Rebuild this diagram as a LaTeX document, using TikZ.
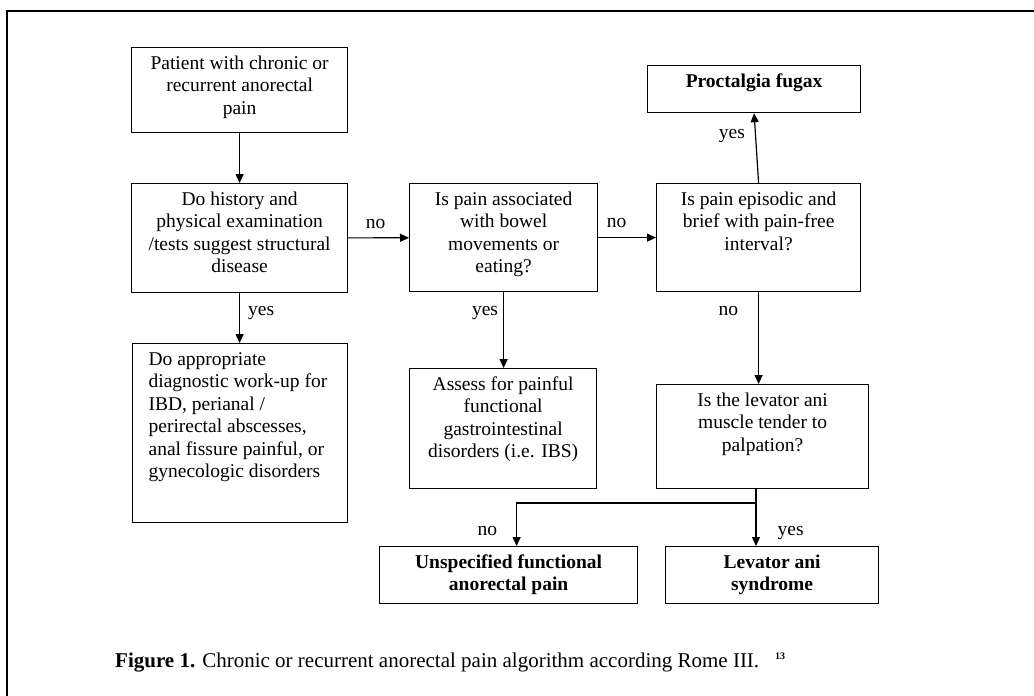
\documentclass[tikz,border=0pt]{standalone}
\usepackage{fontspec}
\setmainfont{Liberation Serif}
\usepackage{tikz}
\usetikzlibrary{arrows.meta,positioning}

\newcommand{\boxfont}{\fontsize{19.5pt}{22.5pt}\selectfont}
\newcommand{\capfont}{\fontsize{21pt}{24pt}\selectfont}
% text sits at the top of each box, as in the original
\newcommand{\toptext}[3]{\parbox[c][#2][t]{#1}{\centering\rule{0pt}{21.5pt}#3}}
\newcommand{\toptextl}[3]{\parbox[c][#2][t]{#1}{\raggedright\setlength{\leftskip}{16pt}\rule{0pt}{21.5pt}#3}}

\begin{document}
\begin{tikzpicture}[x=1pt, y=-1pt,
  box/.style={draw, line width=1.2pt, anchor=north west, inner sep=0pt, font=\boxfont},
  arr/.style={-{Triangle[length=9pt,width=8pt]}, line width=1.2pt},
  lbl/.style={font=\boxfont, inner sep=3pt}]
  \useasboundingbox (0,0) rectangle (1034,696);
  \draw[line width=2pt] (7,696) -- (7,11) -- (1034,11);

  \node[box] (patient)  at (131,47)  {\toptext{216pt}{85pt}{Patient with chronic or\\recurrent anorectal\\pain}};
  \node[box] (history)  at (131,183) {\toptext{216pt}{109pt}{Do history and\\physical examination\\/tests suggest structural\\disease}};
  \node[box] (assoc)    at (409,183) {\toptext{188pt}{108pt}{Is pain associated\\with bowel\\movements or\\eating?}};
  \node[box] (episodic) at (656,183) {\toptext{204pt}{108pt}{Is pain episodic and\\brief with pain-free\\interval?}};
  \node[box] (fugax)    at (647,65)  {\toptext{213pt}{47pt}{\bfseries Proctalgia fugax}};
  \node[box] (workup)   at (132,343) {\toptextl{215pt}{179pt}{Do appropriate\\diagnostic work-up for\\IBD, perianal /\\perirectal abscesses,\\anal fissure painful, or\\gynecologic disorders}};
  \node[box] (assess)   at (409,368) {\toptext{187pt}{120pt}{Assess for painful\\functional\\gastrointestinal\\disorders (i.e. IBS)}};
  \node[box] (levator)  at (656,384) {\toptext{212pt}{104pt}{Is the levator ani\\muscle tender to\\palpation?}};
  \node[box] (unspec)   at (379,546) {\toptext{258pt}{57pt}{\bfseries Unspecified functional\\anorectal pain}};
  \node[box] (lasyn)    at (665,546) {\toptext{213pt}{57pt}{\bfseries Levator ani\\syndrome}};

  \draw[arr] (patient.south) -- (history.north);
  \draw[arr] (history) -- node[lbl, pos=0.45, above=6pt] (no1) {no} (assoc);
  \draw[arr] (assoc) -- node[lbl, pos=0.32, above=6pt] (no2) {no} (episodic);
  \draw[arr] (history.south) -- node[lbl, pos=0.4, right=5pt] (yes1) {yes} (history.south |- workup.north);
  \draw[arr] (assoc.south) -- node[lbl, pos=0.28, left=2pt] (yes2) {yes} (assoc.south |- assess.north);
  \draw[arr] (episodic.north) -- node[lbl, pos=0.67, left=7pt] (yes3) {yes} (fugax.south);
  \draw[arr] (episodic.south) -- node[lbl, pos=0.21, left=17pt] (no3) {no} (episodic.south |- levator.north);

  % split below the levator question
  \coordinate (split) at (756,503);
  \draw[line width=1.2pt] (levator.south -| split) -- (split);
  \draw[arr] (split) -- node[lbl, pos=0.7, right=18pt] (yes4) {yes} (lasyn.north -| split);
  \draw[arr] (split) -| node[lbl, pos=0.83, left=16pt] (no4) {no} ([xshift=8pt]unspec.north);

  \node[anchor=base west, inner sep=0pt, font=\capfont] (caption) at (115,667)
    {\textbf{Figure 1.} Chronic or recurrent anorectal pain algorithm according Rome III.\hspace{16pt}\raisebox{8pt}{\fontsize{10pt}{10pt}\selectfont\textbf{13}}};
\end{tikzpicture}
\end{document}
